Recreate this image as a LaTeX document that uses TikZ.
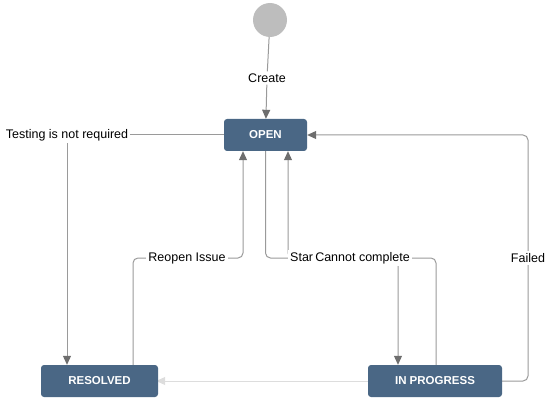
\documentclass[tikz,border=0pt]{standalone}
\usepackage{fontspec}
\setmainfont{Liberation Sans}
\usetikzlibrary{arrows.meta,backgrounds}

\definecolor{boxblue}{HTML}{4A6785}
\definecolor{linegray}{HTML}{9A9A9A}
\definecolor{tipgray}{HTML}{6E6E6E}
\definecolor{lightline}{HTML}{DDDDDD}
\definecolor{startgray}{HTML}{BDBDBD}

\tikzset{
  status/.style={fill=boxblue, draw=none, rounded corners=3pt, text=white,
    font=\fontsize{11.5}{13}\selectfont\bfseries, minimum height=32pt, inner sep=0pt},
  lbl/.style={fill=white, inner sep=2pt, font=\fontsize{12.5}{14}\selectfont},
  flow/.style={draw=linegray, line width=1pt, rounded corners=5pt},
  tip/.style={-{Triangle[length=9pt,width=8pt,color=tipgray]}}
}

\begin{document}
\begin{tikzpicture}[x=1pt,y=-1pt]
\useasboundingbox (0,0) rectangle (547,404);

\node (start) at (270,20) [circle, fill=startgray, minimum size=34pt, inner sep=0pt]{};

\node (open) at (265.5,135) [status, minimum width=83pt]{OPEN};
\node (resolved) at (99.5,381) [status, minimum width=117pt]{RESOLVED};
\node (inprog) at (435,381) [status, minimum width=134pt]{IN PROGRESS};

\node (create) at (267,78) [lbl]{Create};
\node (testing) at (67,135) [lbl]{Testing is not required};
\node (reopen) at (187,258) [lbl]{Reopen Issue};
\node (failed) at (528,258) [lbl]{Failed};
\node (startp) at (288,258) [lbl, anchor=west]{Start Progress};
\node (cannot) at (362.5,258) [lbl]{Cannot complete};

\begin{scope}[on background layer]
\draw [flow] (start) -- (create);
\draw [flow, tip] (create) -- (open);

\draw [flow] (open.west) -- (testing.east);
\draw [flow, tip] (testing.south) -- (testing.south |- resolved.north);

\draw [flow] ([xshift=33.5pt]resolved.north) |- (reopen.west);
\draw [flow, tip] (reopen.east) -| ([xshift=-22.5pt]open.south);

\draw [flow] (open.south) |- (startp.west);
\draw [flow, tip] (startp.east) -| ([xshift=-37pt]inprog.north);

\draw [flow] ([xshift=1pt]inprog.north) |- (cannot.east);
\draw [flow, tip] (cannot.west) -| ([xshift=22.5pt]open.south);

\draw [flow] (inprog.east) -| (failed.south);
\draw [flow, tip] (failed.north) |- (open.east);

\draw [draw=lightline, line width=1pt, -{Triangle[length=9pt,width=8pt,color=lightline]}] (inprog.west) -- ([xshift=-2pt]resolved.east);
\end{scope}

\end{tikzpicture}
\end{document}
